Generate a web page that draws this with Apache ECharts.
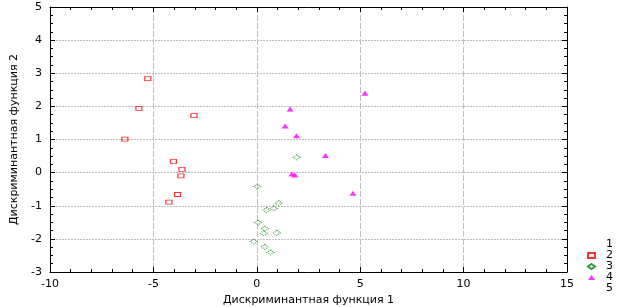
<!DOCTYPE html>
<html>
<head>
<meta charset="utf-8">
<script src="https://cdn.jsdelivr.net/npm/echarts@6/dist/echarts.min.js"></script>
<style>
html, body { margin: 0; padding: 0; background: #fff; }
#chart { width: 631px; height: 307px; }
</style>
</head>
<body>
<div id="chart"></div>
<script>
// группы (легенда)
var groupNames = ['1', '2', '3', '4', '5'];

// точки по группам: [функция 1, функция 2]
var group1 = [];
var group2 = [[-5.27, 2.84], [-5.70, 1.94], [-3.04, 1.72], [-6.38, 1.01], [-4.03, 0.34],
              [-3.62, 0.10], [-3.67, -0.10], [-3.83, -0.66], [-4.25, -0.89]];
var group3 = [[1.93, 0.46], [0.02, -0.42], [1.06, -0.92], [0.82, -1.08], [0.47, -1.13],
              [0.05, -1.51], [0.39, -1.69], [0.34, -1.83], [0.97, -1.82], [-0.16, -2.08],
              [0.39, -2.24], [0.66, -2.41]];
var group4 = [[5.23, 2.40], [1.61, 1.92], [1.37, 1.41], [1.92, 1.11], [3.32, 0.52],
              [1.70, -0.04], [1.84, -0.07], [4.65, -0.62]];
var group5 = [];

// оси
var xMin = -10, xMax = 15, xStep = 5;
var yMin = -3, yMax = 5, yStep = 1;
var xTitle = 'Дискриминантная функция 1';
var yTitle = 'Дискриминантная функция 2';

var font = 'DejaVu Sans';

var chart = echarts.init(document.getElementById('chart'));

function makeAxis(isX, isMain) {
	var ax = {
		type: 'value',
		min: isX ? xMin : yMin,
		max: isX ? xMax : yMax,
		interval: isX ? xStep : yStep,
		position: isX ? (isMain ? 'bottom' : 'top') : (isMain ? 'left' : 'right'),
		axisLine: { show: true, onZero: false, lineStyle: { color: '#000', width: 1 } },
		axisTick: { show: true, inside: true, length: 5, lineStyle: { color: '#000' } },
		minorTick: { show: true, splitNumber: isX ? 5 : 4, length: 3, lineStyle: { color: '#000' } },
		axisLabel: { show: isMain, color: '#000', fontFamily: font, fontSize: 11, margin: isX ? 7 : 8 },
		splitLine: { show: false }
	};
	if (isMain) {
		ax.splitLine = {
			show: true,
			lineStyle: isX ? { color: '#c0c0c0', type: [6, 2] } : { color: '#bdbdbd', type: [2, 1] }
		};
		ax.name = isX ? xTitle : yTitle;
		ax.nameLocation = 'middle';
		ax.nameGap = isX ? 20 : 30;
		ax.nameTextStyle = { color: '#000', fontFamily: font, fontSize: 11 };
	}
	return ax;
}

var option = {
	animation: false,
	backgroundColor: '#fff',
	grid: { left: 50, right: 64, top: 7, bottom: 35, outerBoundsMode: 'none' },
	xAxis: [makeAxis(true, true), makeAxis(true, false)],
	yAxis: [makeAxis(false, true), makeAxis(false, false)],
	legend: {
		type: 'plain',
		data: groupNames,
		orient: 'vertical',
		left: 587,
		top: 239,
		padding: 0,
		itemWidth: 7,
		itemHeight: 5,
		itemGap: 0,
		selectedMode: false,
		textStyle: { color: '#000', fontFamily: font, fontSize: 11, lineHeight: 11, padding: [0, 0, 0, 6] }
	},
	series: [
		{
			name: groupNames[0], type: 'scatter', data: group1,
			symbol: 'rect', symbolSize: [6, 4],
			itemStyle: { color: 'rgba(0,0,0,0)', borderColor: 'rgba(0,0,0,0)' }
		},
		{
			name: groupNames[1], type: 'scatter', data: group2,
			symbol: 'rect', symbolSize: [6, 4],
			itemStyle: { color: 'rgba(0,0,0,0)', borderColor: '#ff0000', borderWidth: 1 }
		},
		{
			name: groupNames[2], type: 'scatter', data: group3,
			symbol: 'diamond', symbolSize: [7, 5],
			itemStyle: { color: 'rgba(0,0,0,0)', borderColor: '#008000', borderWidth: 1, borderType: [1, 1] }
		},
		{
			name: groupNames[3], type: 'scatter', data: group4,
			symbol: 'triangle', symbolSize: [7, 5],
			itemStyle: { color: '#ff00ff' }
		},
		{
			name: groupNames[4], type: 'scatter', data: group5,
			symbol: 'rect', symbolSize: [6, 4],
			itemStyle: { color: 'rgba(0,0,0,0)', borderColor: 'rgba(0,0,0,0)' }
		}
	]
};

chart.setOption(option);
</script>
</body>
</html>
